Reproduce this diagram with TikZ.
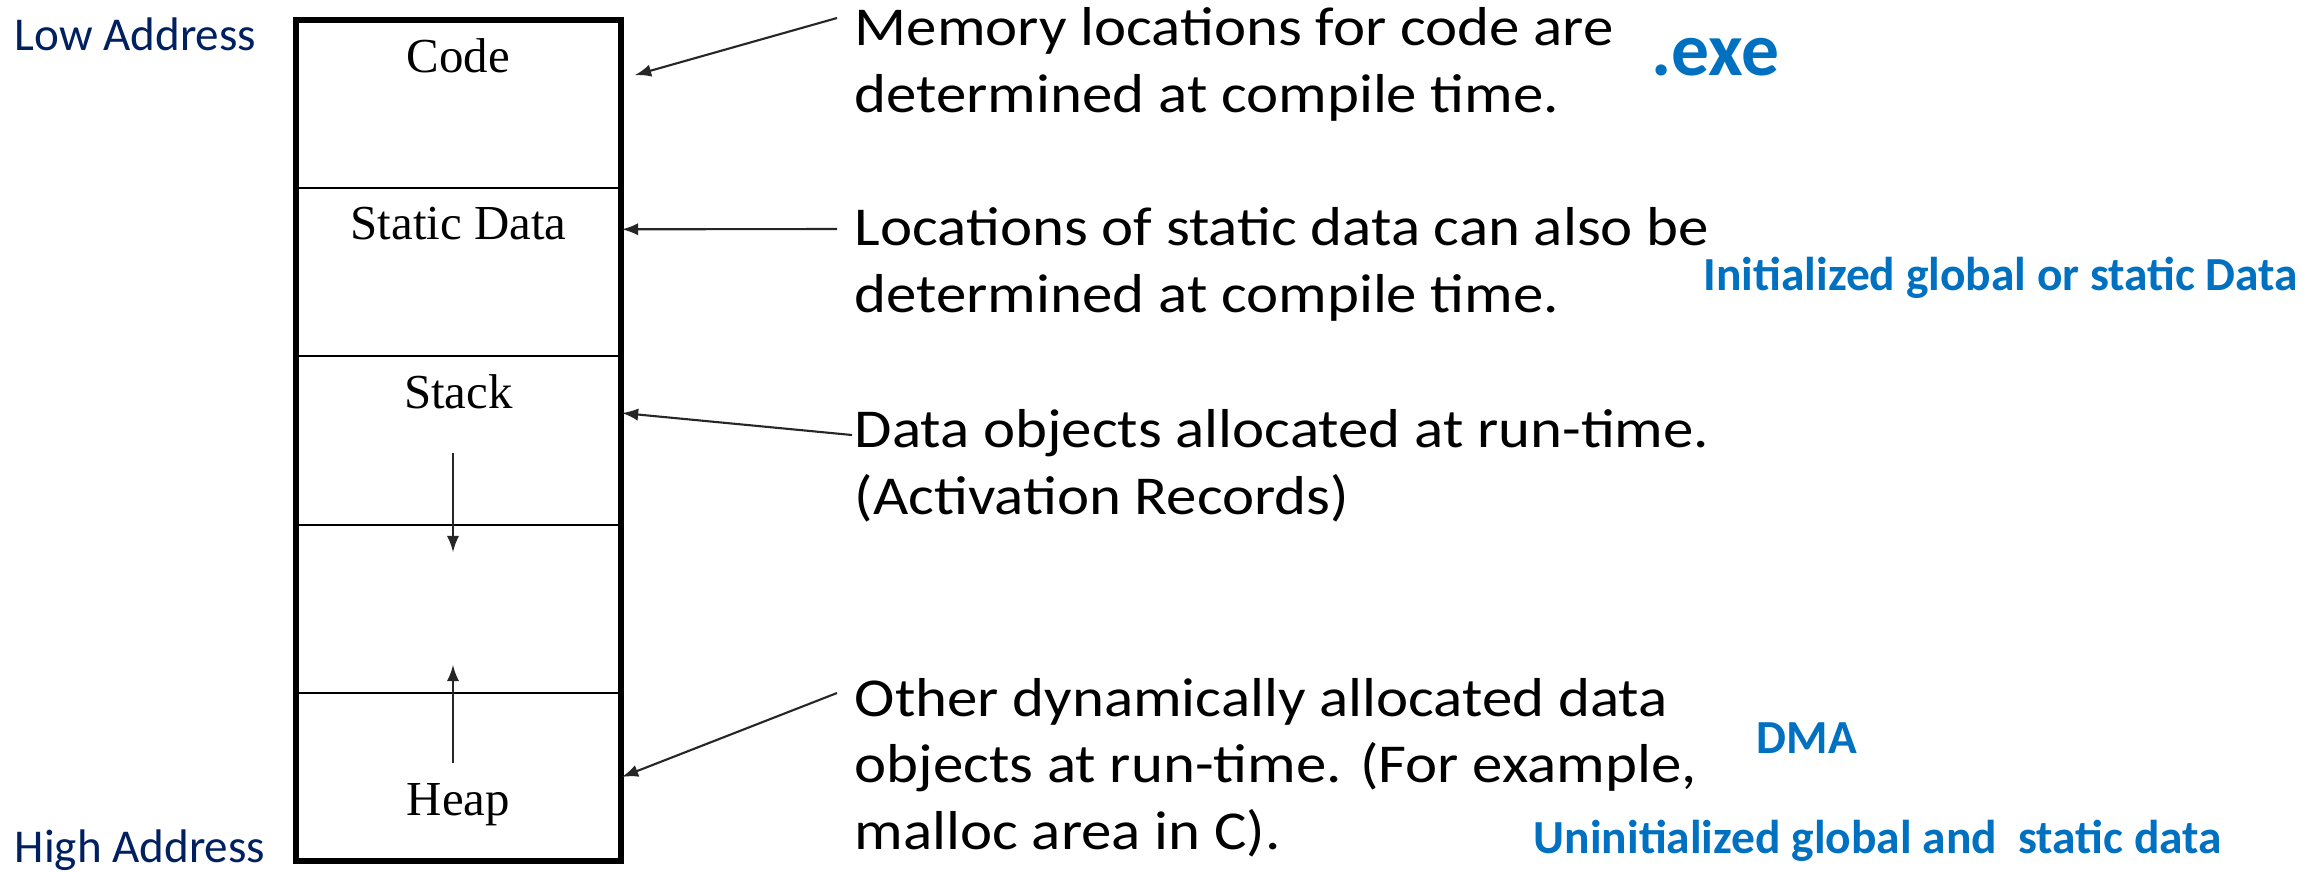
\documentclass[tikz,border=0pt]{standalone}
\usepackage{fontspec}
\setmainfont{Carlito}
\newfontfamily\boxfont{Liberation Serif}
\newfontfamily\descfont[FakeStretch=1.11]{Carlito}
\usetikzlibrary{positioning}

\definecolor{addrnavy}{RGB}{0,32,96}
\definecolor{noteblue}{RGB}{0,112,192}

\tikzset{
  seg/.style={draw, line width=0.6pt, minimum width=3.25cm, minimum height=1.682cm, inner sep=0pt, outer sep=0pt},
  seglabel/.style={font=\boxfont\fontsize{13.9}{16}\selectfont, inner sep=0pt, anchor=base},
  desc/.style={font=\descfont\fontsize{15.6}{18.8}\selectfont, align=left, inner sep=0pt, anchor=base west},
  note/.style={font=\bfseries\fontsize{13.5}{15}\selectfont, text=noteblue, inner sep=0pt, anchor=base west},
  addr/.style={font=\fontsize{13.4}{16}\selectfont, text=addrnavy, inner sep=0pt, anchor=base west},
  pointer/.style={-latex, line width=0.6pt, draw=black!85},
}

\begin{document}
\begin{tikzpicture}
  \useasboundingbox (0,0) rectangle (23.22,-8.71);

  % memory segments
  \node[seg] (code) at (4.585,-1.041) {};
  \node[seg, below=0 of code] (static) {};
  \node[seg, below=0 of static] (stack) {};
  \node[seg, below=0 of stack] (free) {};
  \node[seg, below=0 of free] (heap) {};
  \draw[line width=1.7pt] (code.north west) rectangle (heap.south east);

  \node[seglabel] (codetxt) at ([yshift=-0.52cm]code.north) {Code};
  \node[seglabel] (statictxt) at ([yshift=-0.51cm]static.north) {Static Data};
  \node[seglabel] (stacktxt) at ([yshift=-0.52cm]stack.north) {Stack};
  \node[seglabel] (heaptxt) at ([yshift=0.46cm]heap.south) {Heap};

  % growth arrows
  \coordinate (stackgrow) at (4.53,-4.53);
  \coordinate (stackend) at (4.53,-5.52);
  \coordinate (heapgrow) at (4.53,-7.63);
  \coordinate (heapend) at (4.53,-6.65);
  \draw[pointer] (stackgrow) -- (stackend);
  \draw[pointer] (heapgrow) -- (heapend);

  % addresses
  \node[addr] (low) at (0.14,-0.50) {Low Address};
  \node[addr] (high) at (0.14,-8.62) {High Address};

  % descriptions
  \node[desc] (codedesc) at (8.54,-1.12) {Memory locations for code are\\determined at compile time.};
  \node[desc] (staticdesc) at (8.54,-3.12) {Locations of static data can also be\\determined at compile time.};
  \node[desc] (stackdesc) at (8.54,-5.14) {Data objects allocated at run-time.\\(Activation Records)};
  \node[desc] (heapdesc) at (8.54,-8.49) {Other dynamically allocated data\\objects at run-time. (For example,\\malloc area in C).};

  % notes
  \node[note, font=\bfseries\fontsize{21.5}{24}\selectfont] (exe) at (16.51,-0.75) {.exe};
  \node[note] (initdata) at (17.03,-2.90) {Initialized global or static Data};
  \node[note] (dma) at (17.56,-7.53) {DMA};
  \node[note] (uninitdata) at (15.33,-8.53) {Uninitialized global and\ \ static data};

  % pointers
  \coordinate (codefrom) at (8.37,-0.18);
  \coordinate (staticfrom) at (8.37,-2.29);
  \coordinate (stackfrom) at (8.52,-4.35);
  \coordinate (heapfrom) at (8.37,-6.93);
  \draw[pointer] (codefrom) -- ([xshift=0.14cm,yshift=0.29cm]code.east);
  \draw[pointer] (staticfrom) -- ([xshift=0.01cm,yshift=0.43cm]static.east);
  \draw[pointer] (stackfrom) -- ([xshift=0.01cm,yshift=0.275cm]stack.east);
  \draw[pointer] (heapfrom) -- ([xshift=0.01cm]heap.east);
\end{tikzpicture}
\end{document}
